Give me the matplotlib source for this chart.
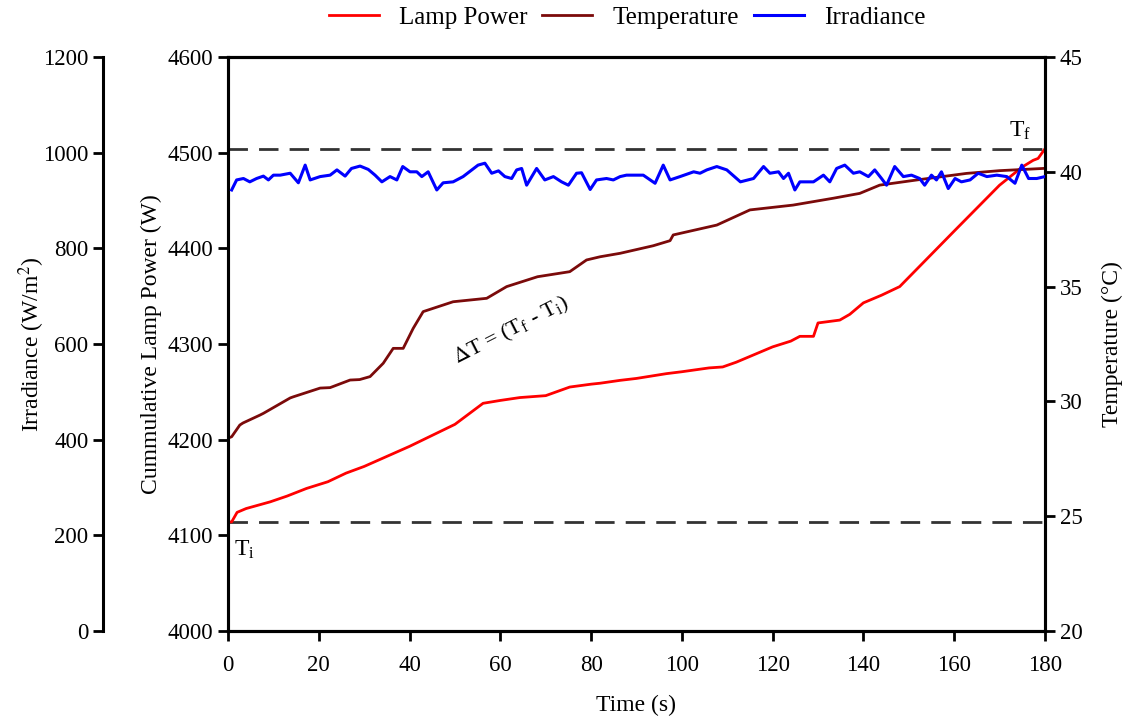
import matplotlib
matplotlib.use("Agg")
import matplotlib.pyplot as plt

plt.rcParams['font.family'] = ['Liberation Serif', 'DejaVu Serif']
plt.rcParams['font.size'] = 16
plt.rcParams['mathtext.fontset'] = 'stix'

# Cumulative lamp power (W)
power_t = [0, 0.8, 2, 4, 9.3, 13, 17.3, 22, 26, 30, 40, 50, 56.2, 60, 64.3, 70, 75.3,
           80, 82, 86.4, 90, 96.6, 100, 103, 106, 109, 112, 115, 120, 124, 126, 129,
           130, 134.8, 137, 140, 144, 148, 160, 170, 175, 177.4, 178.5, 180]
power_w = [4114, 4114, 4124, 4128, 4135, 4141, 4149, 4156, 4165, 4172, 4193, 4216, 4238,
           4241, 4244, 4246, 4255, 4258, 4259, 4262, 4264, 4269, 4271, 4273, 4275, 4276,
           4281, 4287, 4297, 4303, 4308, 4308, 4322, 4325, 4331, 4343, 4351, 4360, 4418,
           4466, 4485, 4492, 4494, 4504]

# Sample temperature (degC)
temp_t = [0, 0.8, 2.6, 3.3, 7, 7.8, 13.7, 14.4, 20.3, 22.5, 26.9, 29, 31.3, 34.2, 36.4,
          38.6, 40.8, 43, 49.6, 57, 61.4, 68.2, 75.3, 79, 82, 86.4, 93.7, 97.4, 98.1,
          107.7, 115, 124.5, 133.4, 139.2, 143.6, 151.6, 162.7, 170, 180]
temp_c = [28.4, 28.46, 28.97, 29.06, 29.4, 29.48, 30.15, 30.2, 30.58, 30.6, 30.93, 30.95,
          31.08, 31.66, 32.31, 32.31, 33.18, 33.91, 34.34, 34.49, 35.0, 35.43, 35.65,
          36.16, 36.3, 36.45, 36.78, 37.0, 37.25, 37.68, 38.34, 38.55, 38.85, 39.06,
          39.42, 39.64, 39.93, 40.05, 40.15]

# Irradiance (W/m2)
irr_t = [0.8, 1.9, 3.4, 4.8, 6.3, 7.8, 8.9, 10.0, 11.5, 13.7, 15.5, 17.0, 18.1, 20.3,
         22.5, 24.0, 25.8, 27.2, 29.1, 30.9, 32.4, 33.9, 35.7, 37.2, 38.5, 40.1, 41.6,
         42.7, 44.1, 46.0, 47.4, 49.6, 51.8, 55.1, 56.6, 58.1, 59.6, 61.0, 62.5, 63.6,
         64.7, 65.8, 68.0, 69.8, 71.7, 73.5, 75.0, 76.8, 77.9, 79.8, 81.2, 83.4, 84.9,
         86.4, 87.8, 91.5, 94.1, 95.9, 97.4, 99.6, 102.6, 104.0, 105.5, 107.7, 109.9,
         112.9, 115.8, 118.0, 119.4, 121.3, 122.4, 123.5, 124.9, 126.0, 129.0, 131.2,
         132.6, 134.1, 135.9, 137.8, 139.2, 141.1, 142.5, 144.0, 145.1, 146.9, 148.8,
         150.6, 152.4, 153.5, 155.0, 156.1, 157.2, 158.7, 160.2, 161.6, 163.5, 165.3,
         167.2, 169.4, 171.6, 173.4, 174.9, 176.4, 178.2, 180.0]
irr_w = [922, 943, 946, 939, 946, 951, 943, 953, 953, 957, 937, 974, 943, 950,
         953, 964, 951, 967, 972, 965, 953, 939, 950, 943, 971, 960, 960,
         950, 960, 922, 937, 939, 950, 974, 978, 957, 962, 950, 946, 964,
         967, 932, 967, 943, 950, 939, 932, 957, 958, 923, 943, 946, 943,
         950, 953, 953, 936, 974, 943, 950, 960, 957, 964, 971, 964,
         939, 946, 971, 957, 960, 946, 957, 922, 939, 939, 953,
         939, 967, 974, 957, 960, 950, 964, 946, 932, 971, 950,
         953, 946, 932, 953, 943, 960, 925, 946, 939, 943, 957,
         950, 953, 950, 936, 974, 946, 946, 950]

fig = plt.figure(figsize=(11.26, 7.18), dpi=100)
ax = fig.add_axes([0.2025, 0.1212, 0.7255, 0.7994])
ax_t = ax.twinx()
ax_i = ax.twinx()

ax_i.spines['left'].set_position(('outward', 90))
ax_i.spines['left'].set_visible(True)
ax_i.spines['right'].set_visible(False)
ax_i.yaxis.set_ticks_position('left')
ax_i.yaxis.set_label_position('left')

l_i, = ax_i.plot(irr_t, irr_w, color='#0000FF', lw=2.2, label='Irradiance', zorder=3)
l_t, = ax_t.plot(temp_t, temp_c, color='#7B0A0A', lw=2.0, label='Temperature')
l_p, = ax.plot(power_t, power_w, color='#FF0000', lw=2.0, label='Lamp Power')

ax.axhline(power_w[0], color='#333333', lw=2, ls=(0, (7, 4)), zorder=1)
ax.axhline(power_w[-1], color='#333333', lw=2, ls=(0, (7, 4)), zorder=1)

ax.set_xlim(0, 180)
ax.set_ylim(4000, 4600)
ax_t.set_ylim(20, 45)
ax_i.set_ylim(0, 1200)
ax.set_xticks(range(0, 181, 20))
ax.set_yticks(range(4000, 4601, 100))
ax_t.set_yticks(range(20, 46, 5))
ax_i.set_yticks(range(0, 1201, 200))

for a in (ax, ax_t, ax_i):
    for s in a.spines.values():
        s.set_linewidth(2.2)
    a.tick_params(width=2, length=7, labelsize=16.5)
ax.tick_params(axis='x', pad=10)

ax.set_xlabel('Time (s)', fontsize=17, labelpad=14)
ax.set_ylabel('Cummulative Lamp Power (W)', fontsize=17, labelpad=4)
ax_t.set_ylabel('Temperature (°C)', fontsize=17, labelpad=14)
ax_i.set_ylabel('Irradiance (W/m$^2$)', fontsize=17)
ax_i.yaxis.set_label_coords(-0.222, 0.5)

ax.text(62.5, 4314, r'$\Delta$T = (T$_\mathregular{f}$ - T$_\mathregular{i}$)', rotation=27,
        ha='center', va='center', fontsize=16)
ax.text(174.5, 4523, r'T$_\mathregular{f}$', ha='center', va='center', fontsize=17)
ax.text(3.7, 4085, r'T$_\mathregular{i}$', ha='center', va='center', fontsize=17)

fig.legend(handles=[l_p, l_t, l_i], loc='center', bbox_to_anchor=(0.557, 0.975),
           ncol=3, frameon=False, fontsize=18, handlelength=2.0, columnspacing=0.6)

fig.savefig('out.png', dpi=100)
